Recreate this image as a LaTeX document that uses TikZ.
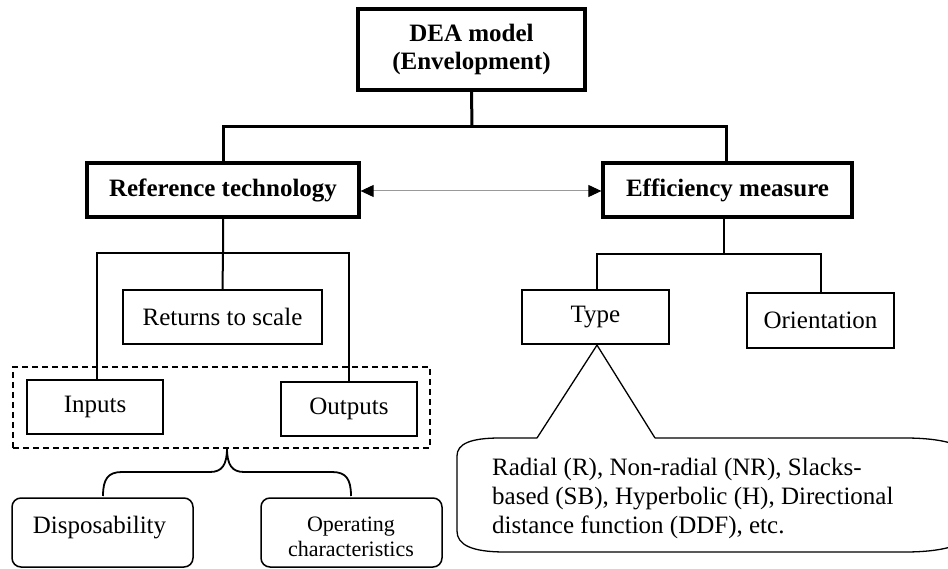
\documentclass[tikz,border=0pt]{standalone}
\usepackage{fontspec}
\setmainfont{Liberation Serif}
\usetikzlibrary{arrows.meta}

\begin{document}
\begin{tikzpicture}[x=1pt,y=-1pt,
  headbox/.style={draw, line width=3.3pt, minimum height=54pt, inner sep=0pt,
    font=\fontsize{25}{28.5}\selectfont\bfseries},
  plainbox/.style={draw, line width=2.2pt, minimum height=54pt, inner sep=0pt,
    font=\fontsize{25}{29}\selectfont},
  softbox/.style={draw, line width=1.5pt, rounded corners=9pt,
    minimum width=181pt, minimum height=69pt, inner sep=0pt},
  label/.style={inner sep=0pt, align=center},
  tree/.style={line width=3pt},
  branch/.style={line width=2pt},
  thin/.style={line width=1.3pt}
]
\useasboundingbox (0,0) rectangle (948,569);
\clip (0,0) rectangle (948,569);

% top level
\node[headbox, minimum width=227pt, minimum height=81pt, align=center] (dea)
  at (471.5,49.5) {DEA model\\(Envelopment)};
\node[headbox, minimum width=272pt] (ref) at (223,190) {Reference technology};
\node[headbox, minimum width=249pt] (eff) at (727.5,190) {Efficiency measure};

\coordinate (hubtop) at (472,127);
\coordinate (efftop) at (726,127);
\draw[tree] (dea.south) -- (hubtop);
\draw[tree] (ref.north) |- (hubtop) -- (efftop) -- ([xshift=-1.5pt]eff.north);

% two-way link between the two branches
\draw[gray!80, line width=1pt, {Triangle[length=13pt,width=12pt,black]}-{Triangle[length=13pt,width=12pt,black]}]
  ([yshift=-1pt]ref.east) -- ([yshift=-1pt]eff.west);

% reference technology branch
\node[plainbox, minimum width=199pt] (rts) at (222.5,317) {Returns to scale};
\node[plainbox, minimum width=136pt] (inp) at (95,407) {Inputs};
\node[plainbox, minimum width=136pt] (outp) at (349,409) {Outputs};

\coordinate (hubref) at (223,253);
\draw[branch] (ref.south) -- (hubref) -- (rts.north);
\draw[branch] ([xshift=2pt]inp.north) |- (hubref) -| (outp.north);

\node[draw, line width=2pt, dash pattern=on 6pt off 4pt, inner sep=0pt,
  minimum width=417pt, minimum height=81pt] (io) at (221.5,407.5) {};

% brace below inputs/outputs
\coordinate (bracetip) at (227,448);
\draw[line width=1.8pt] (103,496) .. controls (103,479) and (108,472) .. (122,472)
  -- (210,472) .. controls (222,472) and (227,465) .. (bracetip);
\draw[line width=1.8pt] (bracetip) .. controls (227,465) and (232,472) .. (244,472)
  -- (332,472) .. controls (346,472) and (351,479) .. (351,496);

\node[softbox] (disp) at (102.5,532.5) {};
\node[label, font=\fontsize{25}{29}\selectfont] (disptext) at (99.5,527.5) {Disposability};
\node[softbox] (oper) at (351.5,532.5) {};
\node[label, font=\fontsize{22}{25.5}\selectfont] (opertext) at (351,537)
  {Operating\\characteristics};

% efficiency measure branch
\node[plainbox, minimum width=147pt] (type) at (595.5,317) {Type};
\node[plainbox, minimum width=147pt, minimum height=55pt] (orient) at (820.5,320.5) {Orientation};

\coordinate (hubeff) at (724,254);
\draw[branch] ([xshift=-3.5pt]eff.south) -- (hubeff);
\draw[branch] ([xshift=1.5pt]type.north) |- (hubeff) -| (orient.north);

% callout listing the measure types
\coordinate (cl) at (537,438);
\coordinate (cr) at (655,438);
\draw[thin] (cl) -- ([xshift=1.5pt]type.south) -- (cr);
\draw[thin] (cl) -- (500,438) .. controls (470,438) and (457,444) .. (457,456)
  -- (457,531) .. controls (457,545) and (472,552) .. (505,552)
  -- (905,552) .. controls (950,552) and (975,542) .. (975,525)
  -- (975,465) .. controls (975,448) and (950,438) .. (905,438) -- (cr);
\node[label, align=left, anchor=west, font=\fontsize{25}{29}\selectfont] (types)
  at (492,498) {Radial (R), Non-radial (NR), Slacks-\\based (SB), Hyperbolic (H), Directional\\distance function (DDF), etc.};
\end{tikzpicture}
\end{document}
